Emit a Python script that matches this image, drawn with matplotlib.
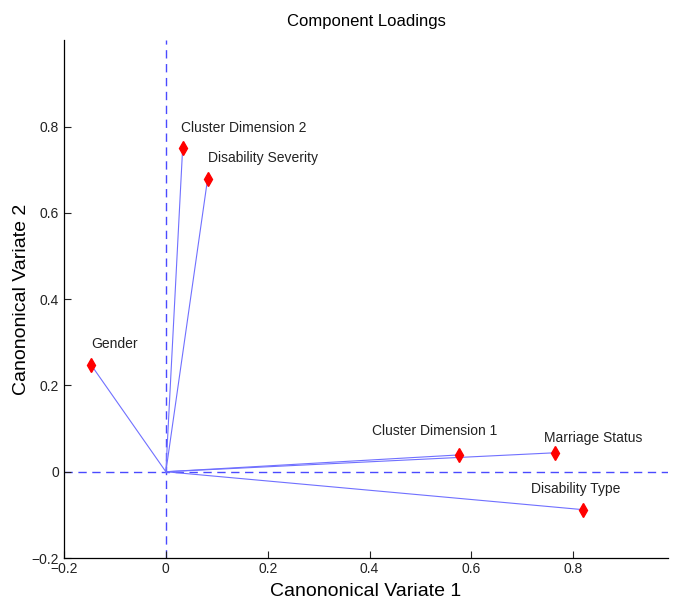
import matplotlib
matplotlib.use("Agg")
import matplotlib.pyplot as plt

# component loadings
names = ["Cluster Dimension 2", "Disability Severity", "Gender",
         "Cluster Dimension 1", "Marriage Status", "Disability Type"]
load_x = [0.033, 0.082, -0.147, 0.576, 0.765, 0.820]
load_y = [0.751, 0.679, 0.248, 0.039, 0.044, -0.088]

# label offsets from each marker, in points
label_off = [(-1, 11), (0, 12), (0, 12), (-63, 14), (-8, 8), (-38, 12)]

plt.rcParams["font.family"] = ["Liberation Sans", "DejaVu Sans"]

fig = plt.figure(figsize=(6.73, 6.01), dpi=100)
ax = fig.add_axes([0.0951, 0.0715, 0.8975, 0.8615])

ax.axvline(0, color="#4a4aff", lw=1.0, ls=(0, (6, 4)), zorder=1)
ax.axhline(0, color="#4a4aff", lw=1.0, ls=(0, (6, 4)), zorder=1)

for x, y in zip(load_x, load_y):
    ax.plot([0, x], [0, y], color="#7070ff", lw=0.8, zorder=2)
ax.plot(load_x, load_y, ls="none", marker="d", ms=7.5, color="red",
        markeredgecolor="red", zorder=3)

for name, x, y, off in zip(names, load_x, load_y, label_off):
    ax.annotate(name, (x, y), xytext=off, textcoords="offset points",
                fontsize=10, color="#222222", ha="left", va="baseline")

ax.set_xlim(-0.2, 0.986)
ax.set_ylim(-0.2, 1.0)
ax.set_xticks([-0.2, 0, 0.2, 0.4, 0.6, 0.8])
ax.set_xticklabels(["\u22120.2", "0", "0.2", "0.4", "0.6", "0.8"])
ax.set_yticks([-0.2, 0, 0.2, 0.4, 0.6, 0.8])
ax.set_yticklabels(["\u22120.2", "0", "0.2", "0.4", "0.6", "0.8"])
ax.tick_params(direction="in", length=5, width=0.8, labelsize=10,
               colors="#222222")
ax.tick_params(axis="x", pad=3)
ax.spines["top"].set_visible(False)
ax.spines["right"].set_visible(False)
for s in ("left", "bottom"):
    ax.spines[s].set_linewidth(0.9)

ax.set_title("Component Loadings", fontsize=12, pad=10)
ax.set_xlabel("Canononical Variate 1", fontsize=14, labelpad=5)
ax.set_ylabel("Canononical Variate 2", fontsize=14, labelpad=1)

fig.savefig("out.png", dpi=100)
